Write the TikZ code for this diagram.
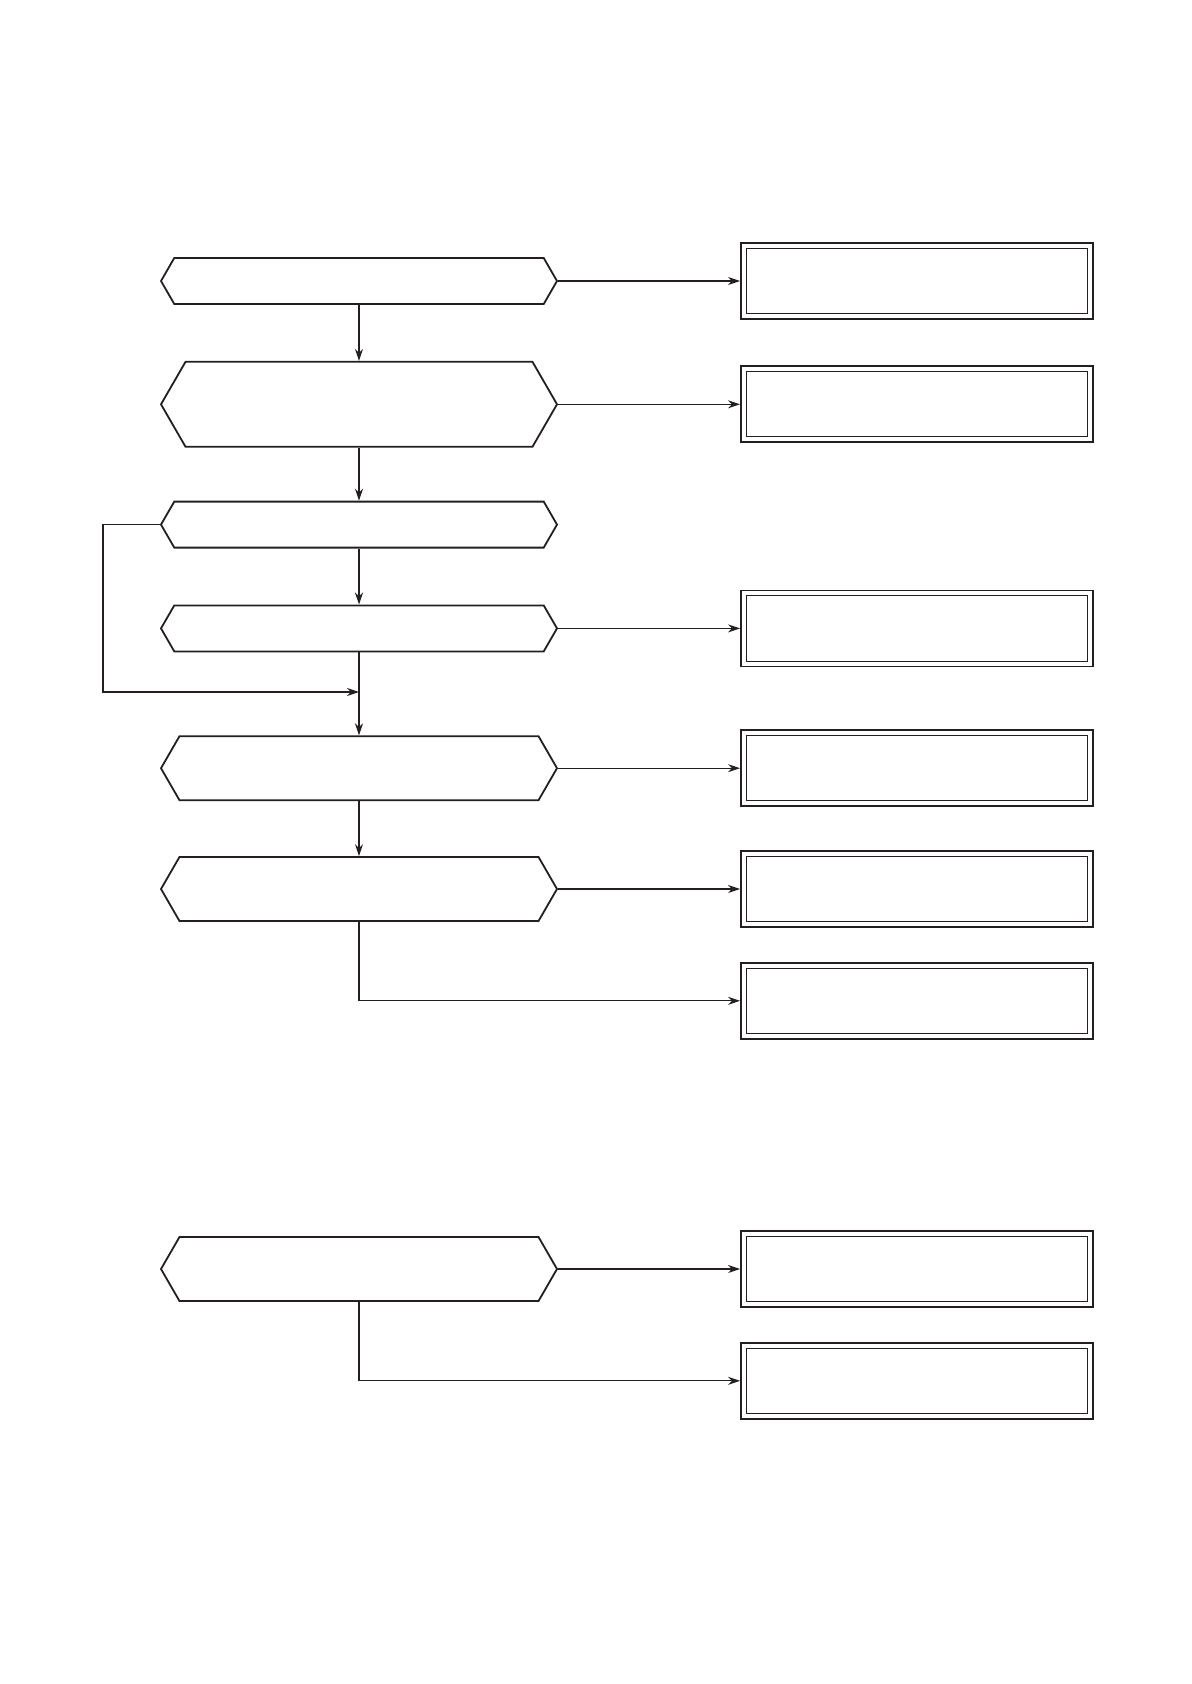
\documentclass[tikz,border=0pt]{standalone}
\usepackage{tikz}
\usetikzlibrary{positioning,shapes.symbols,arrows.meta}
\definecolor{inkgray}{RGB}{35,31,32}

\begin{document}
\begin{tikzpicture}[x=0.5pt, y=-0.5pt,
            hexa/.style={draw=inkgray, signal, signal to=east and west, signal pointer angle=120, line width=0.9pt, minimum width=198pt, inner sep=0pt},
            result/.style={draw=inkgray, rectangle, line width=0.9pt, minimum width=176pt, minimum height=38pt, inner sep=0pt,
                path picture={\draw[inkgray, line width=0.5pt] ([shift={(2.7pt,-2.7pt)}]path picture bounding box.north west) rectangle ([shift={(-2.7pt,2.7pt)}]path picture bounding box.south east);}},
            arrow/.style={-{Stealth[length=6pt, width=4pt]}, line width=0.6pt, inkgray}
        ]
            \useasboundingbox (0,0) rectangle (1192,1684);

            % main chain
            \node (check1) [hexa, minimum height=23pt] at (359,281) {};
            \node (check2) [hexa, minimum height=42.5pt, below=28pt of check1] {};
            \node (check3) [hexa, minimum height=23pt, below=26.5pt of check2] {};
            \node (check4) [hexa, minimum height=23pt, below=28pt of check3] {};
            \node (check5) [hexa, minimum height=32pt, below=41.5pt of check4] {};
            \node (check6) [hexa, minimum height=32pt, below=27.5pt of check5] {};
            \coordinate (join) at (359,692);

            % results
            \node (res1) [result, right=91pt of check1] {};
            \node (res2) [result, right=91pt of check2] {};
            \node (res3) [result, right=91pt of check4] {};
            \node (res4) [result, right=91pt of check5] {};
            \node (res5) [result, right=91pt of check6] {};
            \node (res6) [result, below=17pt of res5] {};

            \draw [arrow] (check1) -- (res1);
            \draw [arrow] (check2) -- (res2);
            \draw [arrow] (check4) -- (res3);
            \draw [arrow] (check5) -- (res4);
            \draw [arrow] (check6) -- (res5);
            \draw [arrow] (check6.south) |- (res6.west);

            \draw [arrow] (check1) -- (check2);
            \draw [arrow] (check2) -- (check3);
            \draw [arrow] (check3) -- (check4);
            \draw [arrow] (check4) -- (check5);
            \draw [arrow] (check5) -- (check6);
            \draw [arrow] (check3.west) -- ++(-57,0) |- (join);

            % second chain
            \node (check7) [hexa, minimum height=32pt] at (359,1269) {};
            \node (res7) [result, right=91pt of check7] {};
            \node (res8) [result, below=17pt of res7] {};

            \draw [arrow] (check7) -- (res7);
            \draw [arrow] (check7.south) |- (res8.west);
        \end{tikzpicture}
\end{document}
